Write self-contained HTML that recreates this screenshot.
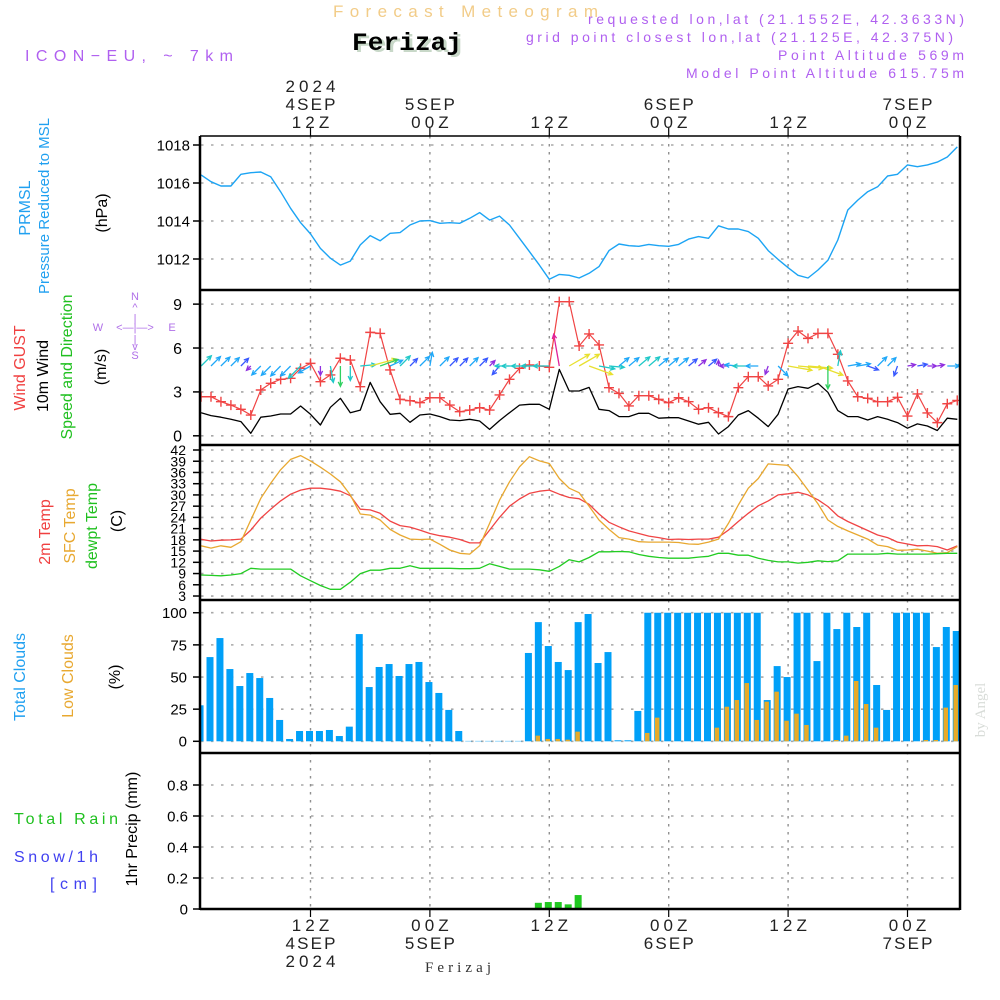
<!DOCTYPE html>
<html><head><meta charset="utf-8"><style>
html,body{margin:0;padding:0;background:#fff;}
svg{display:block;font-family:"Liberation Sans",sans-serif;}
</style></head><body>
<svg id="chart" width="1000" height="1000" viewBox="0 0 1000 1000" xmlns="http://www.w3.org/2000/svg">
<defs><clipPath id="plotclip"><rect x="201" y="136" width="758" height="774"/></clipPath></defs>
<rect width="1000" height="1000" fill="#fff"/>
<text x="333" y="17" font-size="17" fill="#f2cc88" textLength="265" lengthAdjust="spacing">Forecast Meteogram</text>
<text x="355" y="52" font-size="25" font-weight="bold" font-family="Liberation Mono, monospace" fill="#c8d8c8" textLength="110" lengthAdjust="spacingAndGlyphs">Ferizaj</text>
<text x="352" y="50" font-size="25" font-weight="bold" font-family="Liberation Mono, monospace" fill="#000" textLength="110" lengthAdjust="spacingAndGlyphs">Ferizaj</text>
<text x="25" y="61" font-size="16" fill="#b060f0" textLength="208" lengthAdjust="spacing">ICON−EU, ~ 7km</text>
<g fill="#b060f0" font-size="14" text-anchor="end">
<text x="964" y="24" textLength="376" lengthAdjust="spacing">requested lon,lat (21.1552E, 42.3633N)</text>
<text x="953" y="42" textLength="427" lengthAdjust="spacing">grid point closest lon,lat (21.125E, 42.375N)</text>
<text x="964" y="60" textLength="186" lengthAdjust="spacing">Point Altitude 569m</text>
<text x="964" y="78" textLength="278" lengthAdjust="spacing">Model Point Altitude 615.75m</text>
</g>
<g id="grid" clip-path="url(#plotclip)"></g>
<g id="marks" clip-path="url(#plotclip)"></g>
<g id="axes"></g>
<g id="labels" font-size="16">
<text transform="translate(30,208) rotate(-90)" text-anchor="middle" fill="#20a0f0">PRMSL</text>
<text transform="translate(49,206) rotate(-90)" text-anchor="middle" fill="#20a0f0" font-size="15">Pressure Reduced to MSL</text>
<text transform="translate(107,213) rotate(-90)" text-anchor="middle" fill="#000">(hPa)</text>
<text transform="translate(25,368) rotate(-90)" text-anchor="middle" fill="#f04040">Wind GUST</text>
<text transform="translate(48,376) rotate(-90)" text-anchor="middle" fill="#000">10m Wind</text>
<text transform="translate(72,367) rotate(-90)" text-anchor="middle" fill="#20c020">Speed and Direction</text>
<text transform="translate(106,367) rotate(-90)" text-anchor="middle" fill="#000">(m/s)</text>
<text transform="translate(50,532) rotate(-90)" text-anchor="middle" fill="#f04040">2m Temp</text>
<text transform="translate(75,526) rotate(-90)" text-anchor="middle" fill="#e8a830">SFC Temp</text>
<text transform="translate(97,526) rotate(-90)" text-anchor="middle" fill="#20c020">dewpt Temp</text>
<text transform="translate(122,521) rotate(-90)" text-anchor="middle" fill="#000">(C)</text>
<text transform="translate(25,677) rotate(-90)" text-anchor="middle" fill="#20a0f0">Total Clouds</text>
<text transform="translate(73,676) rotate(-90)" text-anchor="middle" fill="#e8a830">Low Clouds</text>
<text transform="translate(120,677) rotate(-90)" text-anchor="middle" fill="#000">(%)</text>
<text transform="translate(137,829) rotate(-90)" text-anchor="middle" fill="#000">1hr Precip (mm)</text>
<text x="14" y="824" fill="#20c020" textLength="104" lengthAdjust="spacing">Total  Rain</text>
<text x="14" y="862" fill="#4040f0" textLength="84" lengthAdjust="spacing">Snow/1h</text>
<text x="50" y="889" fill="#4040f0" textLength="47" lengthAdjust="spacing">[cm]</text>
<g fill="#b070e8" font-size="11" text-anchor="middle">
<text x="135" y="300">N</text><text x="135" y="311">^</text><text x="135" y="322">|</text>
<text x="98" y="331">W</text><text x="135" y="331">&lt;—|—&gt;</text><text x="172" y="331">E</text>
<text x="135" y="343">|</text><text x="135" y="350">v</text><text x="135" y="359">S</text>
</g>
<text x="425" y="972" font-size="15" font-family="Liberation Serif, serif" fill="#333" textLength="66" lengthAdjust="spacing">Ferizaj</text>
<text transform="translate(985,710) rotate(-90)" text-anchor="middle" font-size="15" font-family="Liberation Serif, serif" fill="#d8dcd8">by Angel</text>
</g>
</svg>
<script>
const hours = [-11,-10,-9,-8,-7,-6,-5,-4,-3,-2,-1,0,1,2,3,4,5,6,7,8,9,10,11,12,13,14,15,16,17,18,19,20,21,22,23,24,25,26,27,28,29,30,31,32,33,34,35,36,37,38,39,40,41,42,43,44,45,46,47,48,49,50,51,52,53,54,55,56,57,58,59,60,61,62,63,64,65];
const pressure = [1016.42,1016.07,1015.84,1015.84,1016.46,1016.54,1016.58,1016.33,1015.54,1014.67,1013.91,1013.32,1012.56,1012.04,1011.68,1011.89,1012.74,1013.23,1012.96,1013.35,1013.39,1013.79,1014.0,1014.02,1013.88,1013.91,1013.88,1014.14,1014.44,1014.05,1014.26,1013.79,1013.09,1012.39,1011.68,1010.93,1011.19,1011.14,1011.0,1011.25,1011.6,1012.44,1012.79,1012.7,1012.67,1012.77,1012.7,1012.67,1012.77,1013.05,1013.18,1013.09,1013.75,1013.58,1013.58,1013.44,1013.09,1012.44,1011.98,1011.54,1011.14,1011.0,1011.42,1011.93,1013.0,1014.58,1015.1,1015.54,1015.8,1016.37,1016.46,1016.95,1016.86,1016.95,1017.1,1017.37,1017.9];
const windGust = [2.67,2.67,2.33,2.1,1.81,1.42,3.13,3.59,3.86,3.93,4.61,4.95,3.7,4.16,5.3,5.18,3.36,7.07,7.0,4.5,2.49,2.4,2.26,2.6,2.6,2.1,1.65,1.76,1.92,1.76,2.79,3.86,4.61,4.84,4.77,4.68,9.17,9.17,6.14,6.96,6.21,3.29,2.9,2.04,2.74,2.74,2.49,2.26,2.6,2.33,1.81,1.92,1.58,1.31,3.29,4.04,4.04,3.41,3.86,6.32,7.16,6.66,7.0,7.0,5.57,3.75,2.67,2.56,2.33,2.33,2.63,1.35,2.86,1.56,0.9,2.19,2.42];
const windSpeed = [1.58,1.38,1.27,1.13,0.97,0.17,1.27,1.35,1.49,1.49,2.04,1.47,0.74,1.95,2.56,1.58,1.76,3.65,2.33,1.47,1.54,0.92,1.42,1.49,1.31,1.08,1.04,1.13,1.01,0.44,1.04,1.58,2.1,2.15,2.15,1.81,4.54,3.06,3.06,3.31,1.81,1.72,1.31,1.31,1.54,1.54,1.2,1.24,1.24,1.01,0.79,0.92,0.12,0.63,1.42,1.72,1.2,0.63,1.47,3.2,3.36,3.25,3.59,2.97,1.72,1.31,1.31,1.08,1.31,1.13,0.9,0.52,0.81,0.67,0.36,1.2,1.13];
const windDir = [45,45,45,45,45,225,225,225,225,225,225,240,180,170,180,180,85,75,70,65,45,45,45,10,45,45,45,45,45,45,220,270,270,270,270,270,350,60,60,110,100,95,50,50,50,50,50,50,50,50,50,50,0,270,275,270,270,200,135,100,95,95,110,180,10,80,80,110,45,45,200,80,80,90,80,90,45];
const temp2m = [18.14,17.7,17.9,18.0,18.2,20.6,23.8,26.2,28.4,30.2,31.3,31.8,31.8,31.5,31.0,29.8,26.2,26.0,25.1,23.0,21.8,21.4,20.6,19.7,19.1,18.7,18.1,17.2,17.2,20.6,24.0,27.0,28.9,30.4,31.0,31.3,30.2,29.3,29.0,27.5,24.9,22.7,21.5,20.4,19.7,19.0,18.6,18.1,18.2,18.1,18.2,18.2,18.7,20.6,22.9,25.1,27.1,28.4,30.0,30.3,30.7,30.0,28.7,26.9,24.4,22.9,21.7,20.5,19.3,18.6,17.4,16.9,16.4,16.5,16.2,15.3,16.4];
const tempSfc = [16.4,15.8,16.4,16.0,17.5,23.3,29.1,33.1,36.7,39.5,40.5,39.1,37.4,35.6,33.5,30.0,24.9,24.6,23.3,20.8,19.3,18.2,18.1,18.2,16.8,15.3,14.4,14.2,16.4,22.4,28.6,33.5,37.5,40.2,39.1,38.4,34.4,31.8,30.6,27.0,23.3,20.8,18.6,18.2,17.5,17.4,17.4,17.4,17.3,16.9,16.8,17.4,18.2,22.4,27.3,31.8,34.4,38.3,38.1,37.9,34.9,31.3,27.6,23.3,21.6,20.4,19.3,18.2,16.6,16.2,15.2,15.3,15.5,15.0,14.4,14.6,16.2];
const dewpoint = [8.6,8.5,8.4,8.6,9.0,10.4,10.2,10.2,10.2,10.2,8.4,7.1,5.8,4.8,4.8,6.7,9.0,9.9,9.9,10.4,10.4,11.1,10.4,10.4,10.4,10.4,10.3,10.3,10.4,11.6,10.9,10.2,10.2,10.2,10.0,9.6,10.9,12.7,12.1,13.3,14.8,14.8,14.9,14.8,14.1,13.6,13.3,13.1,13.1,13.1,13.4,13.6,14.4,14.4,13.9,13.9,13.1,12.5,12.1,12.1,11.8,12.0,12.4,12.2,12.4,14.2,14.2,14.2,14.2,14.4,14.2,14.2,14.2,14.2,14.3,14.4,14.4];
const totalClouds = [28,65.5,80.3,56.2,43,53.1,49.2,33.7,16.6,1.8,8,8,8,8.8,4.1,11.4,83.4,42.2,57.8,60.1,50.8,60.1,61.7,46.1,37.6,24.4,8,0.3,0.3,0.3,0.3,0.3,0.3,68.7,92.7,74.1,61.7,55.4,92.7,99,60.9,69.4,0.8,0.8,23.6,100,100,100,100,100,100,100,100,100,100,100,100,32.1,58.5,50,100,100,62.4,100,87.3,100,88.9,100,43.8,24.4,100,100,100,100,73.3,88.9,85.8];
const lowClouds = [0,0,0,0,0,0,0,0,0,0,0,0,0,0,0,0,0,0,0,0,0,0,0,0,0,0,0,0,0,0,0,0,0,0,4.4,1.8,1.8,1.3,7.5,0,0,0,0,0,0,6.5,18.4,0,0,0,0,0,10.6,26.9,32.1,45.3,16.6,30.8,38.6,16,21.5,12.7,0,0,1,4.4,46.9,29,10.6,0,0,0,0,1,1,26.2,43.8];
const precipHours = [23,24,25,26,27];
const precipValues = [0.04,0.045,0.045,0.03,0.09];
const pressureTicks = [1018,1016,1014,1012];
const windTicks = [9,6,3,0];
const tempTicks = [42,39,36,33,30,27,24,21,18,15,12,9,6,3];
const cloudTicks = [100,75,50,25,0];
const precipTicks = [0.8,0.6,0.4,0.2,0];
const precipTickLabels = ["0.8","0.6","0.4","0.2","0"];
const timeTicks = [0,12,24,36,48,60];
const timeHourLabels = ["12Z","00Z","12Z","00Z","12Z","00Z"];
const timeDayLabels = ["4SEP","5SEP","","6SEP","","7SEP"];
const timeYearLabels = ["2024","","","","",""];

const NS="http://www.w3.org/2000/svg";
const X = t => 310.5 + 9.95*t;
const Yp = p => 145 + (1018-p)*19;
const Yw = v => 435.8 - v*14.63;
const Yt = T => 450 + (42-T)*3.744;
const Yc = c => 741.3 - c*1.2857;
const Yr = r => 909 - r*155;
function mk(parent, tag, attrs){const e=document.createElementNS(NS,tag);for(const k in attrs)e.setAttribute(k,attrs[k]);parent.appendChild(e);return e;}
const grid=document.getElementById('grid'), marks=document.getElementById('marks'), axes=document.getElementById('axes');

function hgrid(vals, f, name){
  vals.forEach(v=>{const y=f(v);
    const l=mk(grid,'line',{x1:201,x2:960,y1:y,y2:y,stroke:'#a8a8a8','stroke-width':1.6,'stroke-dasharray':'2.5 7.5'});
    
    
  });
}
function yticks(vals, labels, f, name, xr, fs){
  vals.forEach((v,i)=>{const y=f(v);
    const t=mk(axes,'line',{x1:193,x2:200,y1:y,y2:y,stroke:'#000','stroke-width':1.5});
    
    
    const tx=mk(axes,'text',{x:xr,y:y+fs*0.36,'text-anchor':'end','font-size':fs,fill:'#000'});
    tx.textContent=labels[i];
    
    
  });
}
hgrid(pressureTicks,Yp,'pressure'); hgrid(windTicks,Yw,'wind'); hgrid(tempTicks,Yt,'temp'); hgrid(cloudTicks,Yc,'cloud'); hgrid(precipTicks,Yr,'precip');
timeTicks.forEach(t=>{const l=mk(grid,'line',{x1:X(t),x2:X(t),y1:136,y2:909,stroke:'#909090','stroke-width':1.4,'stroke-dasharray':'2.5 5.5'});
  
  });

yticks(pressureTicks,pressureTicks.map(String),Yp,'pressure',190,15);
yticks(windTicks,windTicks.map(String),Yw,'wind',182,16);
yticks(tempTicks,tempTicks.map(String),Yt,'temp',186,14);
yticks(cloudTicks,cloudTicks.map(String),Yc,'cloud',187,15);
yticks(precipTicks,precipTickLabels,Yr,'precip',188,15);

function line(vals,f,color,name,w){
  const d=vals.map((v,i)=>(i?'L':'M')+X(hours[i]).toFixed(1)+','+f(v).toFixed(1)).join('');
  const p=mk(marks,'path',{d:d,fill:'none',stroke:color,'stroke-width':w||1.3,'stroke-linejoin':'round'});
  
  
}
line(pressure,Yp,'#1ca4f4','pressure-line',1.4);
totalClouds.forEach((c,i)=>{const y=Yc(c);
  const r=mk(marks,'rect',{x:X(hours[i])-4.5,y:y,width:7,height:741.3-y,fill:'#00a0f8'});
  
  });
lowClouds.forEach((c,i)=>{if(c<=0)return;const y=Yc(c);
  const r=mk(marks,'rect',{x:X(hours[i])-3.8,y:y,width:4.5,height:741.3-y,fill:'#e8aa28'});
  
  });
precipValues.forEach((v,i)=>{const y=Yr(v);
  const r=mk(marks,'rect',{x:X(precipHours[i])-4.5,y:y,width:7,height:909-y,fill:'#20c820'});
  
  });
line(temp2m,Yt,'#f04444','temp-2m-line');
line(tempSfc,Yt,'#e8a830','sfc-temp-line');
line(dewpoint,Yt,'#22cc22','dewpoint-line');
line(windSpeed,Yw,'#000','wind-speed-line',1.3);
line(windGust,Yw,'#f04444','wind-gust-line',1.2);
windGust.forEach((v,i)=>{const x=X(hours[i]),y=Yw(v);
  const g=mk(marks,'path',{d:`M${x-5},${y}h10M${x},${y-5}v10`,stroke:'#f04444','stroke-width':1.4});
  
  });
function spdColor(s){ if(s<0.8)return'#9030e0'; if(s<1.1)return'#3858ff'; if(s<1.5)return'#20a8f8'; if(s<2.2)return'#20c8c8'; if(s<3)return'#30d060'; if(s<4)return'#e8e030'; return'#e0209a';}
windDir.forEach((dir,i)=>{const x=X(hours[i]),y=366,s=windSpeed[i];
  const len=5+s*6,a=dir*Math.PI/180;
  const x2=x+len*Math.sin(a),y2=y-len*Math.cos(a);
  const h1=a+Math.PI-0.45,h2=a+Math.PI+0.45;
  const d=`M${x.toFixed(1)},${y}L${x2.toFixed(1)},${y2.toFixed(1)}M${(x2+5*Math.sin(h1)).toFixed(1)},${(y2-5*Math.cos(h1)).toFixed(1)}L${x2.toFixed(1)},${y2.toFixed(1)}L${(x2+5*Math.sin(h2)).toFixed(1)},${(y2-5*Math.cos(h2)).toFixed(1)}`;
  const p=mk(marks,'path',{d:d,fill:'none',stroke:spdColor(s),'stroke-width':1.3});
  
  });

[[200,136,200,910,2.5],[960,136,960,910,2.5],[200,136,960,136,1.5],[200,290,960,290,2.5],[200,445,960,445,2.5],[200,600,960,600,2.5],[200,753,960,753,2.5],[200,909,960,909,2.5]].forEach(s=>{
  const l=mk(axes,'line',{x1:s[0],y1:s[1],x2:s[2],y2:s[3],stroke:'#000','stroke-width':s[4]});
  
  });
timeTicks.forEach((t,i)=>{const x=X(t);
  const a=mk(axes,'line',{x1:x,x2:x,y1:128,y2:136,stroke:'#000','stroke-width':1.2});
  
  
  const b=mk(axes,'line',{x1:x,x2:x,y1:909,y2:917,stroke:'#000','stroke-width':1.2});
  
  
  const top=[timeYearLabels[i],timeDayLabels[i],timeHourLabels[i]];
  const ty=[92,110,128];
  top.forEach((s,k)=>{if(!s)return;const tx=mk(axes,'text',{x:x,y:ty[k],'text-anchor':'middle','font-size':17,fill:'#222',textLength:s.length*12.5,lengthAdjust:'spacing'});tx.textContent=s;
    
    });
  const bot=[timeHourLabels[i],timeDayLabels[i],timeYearLabels[i]];
  const by=[931,949,967];
  bot.forEach((s,k)=>{if(!s)return;const tx=mk(axes,'text',{x:x,y:by[k],'text-anchor':'middle','font-size':17,fill:'#222',textLength:s.length*12.5,lengthAdjust:'spacing'});tx.textContent=s;
    
    });
});
</script>
</body></html>
